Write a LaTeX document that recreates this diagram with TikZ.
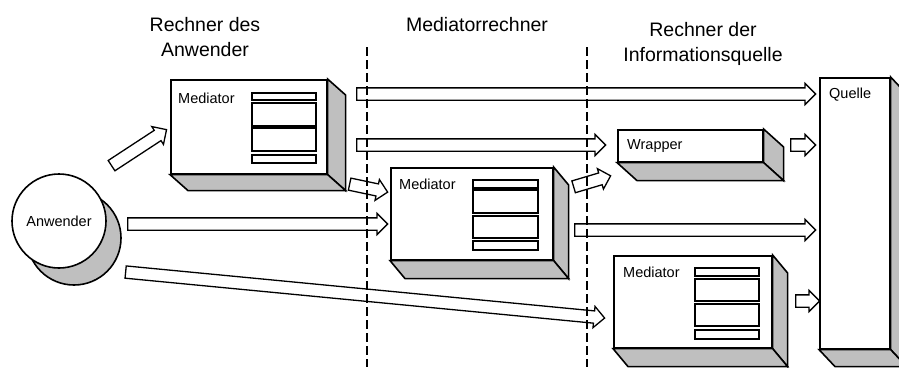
\documentclass[tikz,border=0pt]{standalone}
\usepackage{fontspec}
\setmainfont{Liberation Sans}
\usetikzlibrary{shapes.arrows,calc}

\definecolor{shade}{gray}{0.75}

\tikzset{
  front/.style={draw, line width=1.6pt, fill=white, inner sep=0pt, anchor=north west},
  side/.style={draw, line width=1.6pt, fill=shade, line join=miter},
  slot/.style={draw, line width=1.6pt, fill=white, inner sep=0pt, anchor=north west},
  lbl/.style={anchor=base west, inner sep=0pt, font=\fontsize{14.5}{17}\selectfont},
  title/.style={anchor=base, inner sep=0pt, align=center, font=\fontsize{19.5}{25}\selectfont},
  flow/.style={single arrow, draw, fill=white, line width=1.3pt, inner xsep=0pt,
    inner ysep=5.5pt, single arrow head extend=4.5pt, single arrow tip angle=90,
    minimum width=0pt, anchor=tail},
  divider/.style={line width=1.2pt, dash pattern=on 9pt off 4pt},
}

% side and bottom faces of a box whose front face is node #1, depth (#2,#3)
\newcommand\cuboidfaces[3]{%
  \draw[side] (#1.north east) -- ++(#2,#3) -- ($(#1.south east)+(#2,#3)$) -- (#1.south east) -- cycle;
  \draw[side] (#1.south west) -- (#1.south east) -- ($(#1.south east)+(#2,#3)$) -- ($(#1.south west)+(#2,#3)$) -- cycle;
}

% hollow block arrow from coordinate #1 to coordinate #2, named #3
\newcommand\flowarrow[3]{%
  \path let \p1=(#1), \p2=(#2),
    \n1={atan2(\y2-\y1,\x2-\x1)}, \n2={veclen(\x2-\x1,\y2-\y1)} in
    node[flow, minimum height=\n2, rotate=\n1] (#3) at (\p1) {};
}

\begin{document}
\begin{tikzpicture}[x=1pt,y=-1pt]
\useasboundingbox (0,0) rectangle (899,367);

% column titles (anchored at the baseline of their last line)
\node[title] (tuser) at (205,56) {Rechner des\\Anwender};
\node[title] (tmed) at (477,31) {Mediatorrechner};
\node[title] (tsrc) at (703,61) {Rechner der\\Informationsquelle};

% user
\node[circle, draw, line width=1.6pt, fill=shade, minimum size=94pt, inner sep=0pt] (anwback) at (74,238) {};
\node[circle, draw, line width=1.6pt, fill=white, minimum size=94pt, inner sep=0pt,
  font=\fontsize{14.5}{17}\selectfont] (anw) at (59,221) {Anwender};

% mediator at the user's machine
\node[front, minimum width=156pt, minimum height=94pt] (m1) at (170,79) {};
\cuboidfaces{m1}{18}{16}
\node[lbl] (m1t) at (178,103) {Mediator};
\foreach \yy/\hh [count=\i] in {92/7,102/23,127/23,154/8}
  \node[slot, minimum width=64pt, minimum height=\hh pt] (m1s\i) at (251,\yy) {};

% mediator machine
\node[front, minimum width=162pt, minimum height=92pt] (m2) at (390,167) {};
\cuboidfaces{m2}{15}{18}
\node[lbl] (m2t) at (399,189) {Mediator};
\foreach \yy/\hh [count=\i] in {179/8,189/23,215/22,240/9}
  \node[slot, minimum width=65pt, minimum height=\hh pt] (m2s\i) at (472,\yy) {};

% wrapper
\node[front, minimum width=145pt, minimum height=32pt] (wr) at (617,129) {};
\cuboidfaces{wr}{20}{18}
\node[lbl] (wrt) at (627,149) {Wrapper};

% mediator at the source machine
\node[front, minimum width=158pt, minimum height=92pt] (m3) at (613,255) {};
\cuboidfaces{m3}{15}{18}
\node[lbl] (m3t) at (623,277) {Mediator};
\foreach \yy/\hh [count=\i] in {267/8,278/22,303/22,329/9}
  \node[slot, minimum width=64pt, minimum height=\hh pt] (m3s\i) at (694,\yy) {};

% source
\node[front, minimum width=70pt, minimum height=271pt] (q) at (819,77) {};
\cuboidfaces{q}{16}{17}
\node[lbl] (qt) at (829,98) {Quelle};

% arrow end points
\coordinate (a1s) at (111,166);  \coordinate (a1e) at (166,130);
\coordinate (a2s) at (356,94);   \coordinate (a2e) at (815,94);
\coordinate (a3s) at (356,145);  \coordinate (a3e) at (605,145);
\coordinate (a4s) at (349,184);  \coordinate (a4e) at (387,192);
\coordinate (a5s) at (127,224);  \coordinate (a5e) at (387,224);
\coordinate (a6s) at (125,272);  \coordinate (a6e) at (604,318);
\coordinate (a7s) at (573,187);  \coordinate (a7e) at (610,176);
\coordinate (a8s) at (574,230);  \coordinate (a8e) at (815,230);
\coordinate (a9s) at (790,145);  \coordinate (a9e) at (815,145);
\coordinate (a10s) at (795,301); \coordinate (a10e) at (819,301);

\flowarrow{a1s}{a1e}{f1}
\flowarrow{a2s}{a2e}{f2}
\flowarrow{a3s}{a3e}{f3}
\flowarrow{a4s}{a4e}{f4}
\flowarrow{a5s}{a5e}{f5}
\flowarrow{a6s}{a6e}{f6}
\flowarrow{a7s}{a7e}{f7}
\flowarrow{a8s}{a8e}{f8}
\flowarrow{a9s}{a9e}{f9}
\flowarrow{a10s}{a10e}{f10}

% machine boundaries
\coordinate (d1top) at (367,47);  \coordinate (d1bot) at (367,367);
\coordinate (d2top) at (587,47);  \coordinate (d2bot) at (587,367);
\draw[divider] (d1top) -- (d1bot);
\draw[divider] (d2top) -- (d2bot);
\end{tikzpicture}
\end{document}
